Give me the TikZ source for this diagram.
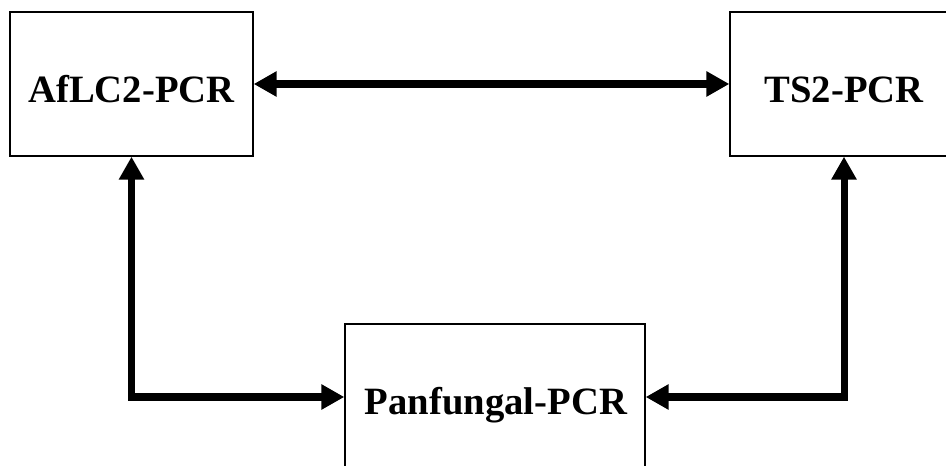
\documentclass[tikz,border=0pt]{standalone}
\usepackage{fontspec}
\setmainfont{Liberation Serif}
\usepackage{tikz}
\usetikzlibrary{positioning,arrows.meta}
\tikzstyle{arrow} = [{Triangle[length=0.46cm,width=0.48cm]}-{Triangle[length=0.46cm,width=0.48cm]}, line width=4pt]
\tikzstyle{pcrbox} = [rectangle, draw, line width=0.75pt, fill=white]
\tikzstyle{pcrtext} = [font=\fontsize{22}{26}\selectfont\bfseries, anchor=base, inner sep=0pt]

\begin{document}
\begin{tikzpicture}
    \useasboundingbox (0,0) rectangle (18.92,9.3);

    % AfLC2 box
    \node[pcrbox, minimum width=4.86cm, minimum height=2.88cm] (aflc) at (2.63,7.62) {};
    \node[pcrtext] (aflctext) at (2.63,7.24) {AfLC2-PCR};

    % TS2 box
    \node[pcrbox, minimum width=4.56cm, minimum height=2.88cm] (ts2) at (16.88,7.62) {};
    \node[pcrtext] (ts2text) at (16.88,7.24) {TS2-PCR};

    % Panfungal box
    \node[pcrbox, minimum width=6cm, minimum height=2.92cm] (pan) at (9.9,1.36) {};
    \node[pcrtext] (pantext) at (9.92,1.0) {Panfungal-PCR};

    % Arrows
    \draw[arrow] (aflc) -- (ts2);
    \draw[arrow] (aflc.south) |- (pan.west);
    \draw[arrow] (ts2.south) |- (pan.east);
\end{tikzpicture}
\end{document}
